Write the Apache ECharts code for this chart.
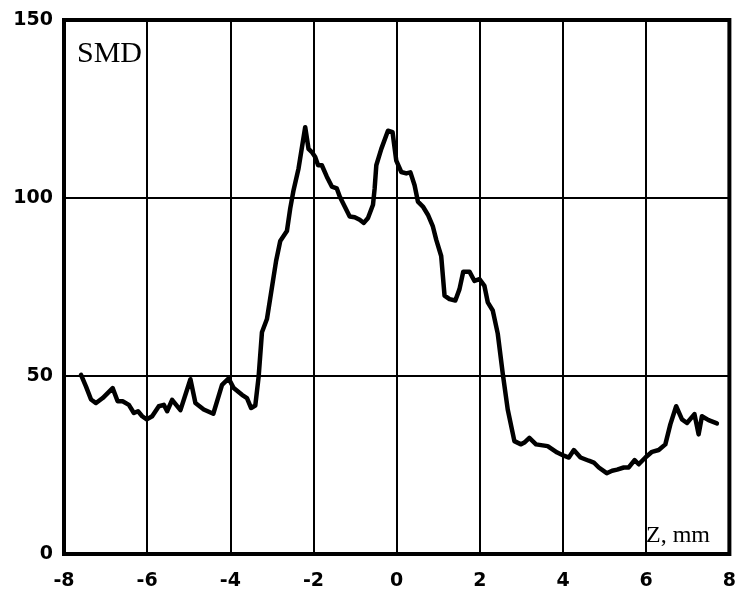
<!DOCTYPE html>
<html>
<head>
<meta charset="utf-8">
<script src="https://cdn.jsdelivr.net/npm/echarts@6/dist/echarts.min.js"></script>
<style>
html,body{margin:0;padding:0;background:#fff;}
#chart{width:739px;height:591px;}
</style>
</head>
<body>
<div id="chart"></div>
<script>
// Z position (mm)
var zValues = [
-7.59,-7.47,-7.35,-7.23,-7.07,-6.83,-6.71,-6.59,-6.44,-6.32,-6.22,-6.12,-6.01,-5.88,-5.72,-5.60,-5.52,-5.40,-5.20,-4.96,
-4.84,-4.64,-4.41,-4.20,-4.04,-3.92,-3.72,-3.60,-3.50,-3.40,-3.32,-3.24,-3.12,-3.00,-2.90,-2.80,-2.64,-2.56,-2.48,-2.36,
-2.20,-2.12,-2.04,-1.96,-1.89,-1.80,-1.68,-1.56,-1.44,-1.37,-1.25,-1.13,-1.01,-0.89,-0.79,-0.69,-0.57,-0.53,-0.49,-0.37,
-0.21,-0.10,-0.01,0.11,0.23,0.33,0.43,0.51,0.63,0.75,0.87,0.95,1.07,1.15,1.27,1.41,1.51,1.60,1.75,1.87,
1.99,2.11,2.19,2.31,2.43,2.55,2.67,2.83,2.99,3.07,3.19,3.35,3.63,3.86,4.02,4.14,4.26,4.42,4.62,4.74,
4.86,5.05,5.18,5.30,5.46,5.58,5.72,5.82,5.98,6.14,6.30,6.46,6.58,6.72,6.86,6.98,7.16,7.26,7.34,7.50,
7.70
];
// SMD values
var smdValues = [
50.3,47.0,43.4,42.4,43.8,46.6,42.9,42.9,41.9,39.6,40.1,38.7,37.8,38.7,41.5,41.9,40.1,43.3,40.4,49.1,
42.4,40.6,39.4,47.5,49.3,46.6,44.7,43.8,41.0,41.7,49.8,62.3,66.0,74.9,82.3,87.9,90.7,97.1,102.2,108.3,
119.9,113.8,112.9,111.5,109.2,109.2,106.0,103.2,102.7,100.4,97.6,94.8,94.6,93.9,93.0,94.4,98.1,102.7,109.2,113.8,
118.9,118.5,110.5,107.3,106.9,107.2,103.6,99.0,97.6,95.3,92.0,88.3,83.7,72.6,71.6,71.2,74.4,79.3,79.3,76.7,
77.2,75.3,70.7,68.4,61.9,50.7,40.6,31.7,30.8,31.3,32.6,30.8,30.3,28.5,27.6,27.1,29.2,27.1,26.2,25.7,
24.3,22.7,23.4,23.7,24.3,24.3,26.4,25.2,27.1,28.7,29.2,30.8,36.4,41.5,37.8,36.8,39.3,33.6,38.7,37.6,
36.7
];
var xTicks = [-8,-6,-4,-2,0,2,4,6,8];
var yTicks = [0,50,100,150];
var yLabelText = 'SMD';
var xLabelText = 'Z, mm';

var seriesData = zValues.map(function(z, i){ return [z, smdValues[i]]; });

var chart = echarts.init(document.getElementById('chart'));
var tickFont = {fontFamily:'DejaVu Sans', fontWeight:'bold', fontSize:19, color:'#000'};
chart.setOption({
  animation:false,
  backgroundColor:'#fff',
  grid:{left:64, top:20, width:667, height:539, show:true, borderColor:'#000', borderWidth:4, backgroundColor:'transparent'},
  xAxis:{
    type:'value', min:xTicks[0], max:xTicks[xTicks.length-1], interval:2,
    axisLine:{show:false}, axisTick:{show:false},
    splitLine:{show:true, lineStyle:{color:'#000', width:2}},
    axisLabel:Object.assign({margin:18}, tickFont)
  },
  yAxis:{
    type:'value', min:yTicks[0], max:yTicks[yTicks.length-1], interval:50,
    axisLine:{show:false}, axisTick:{show:false},
    splitLine:{show:true, lineStyle:{color:'#000', width:2}},
    axisLabel:Object.assign({margin:11}, tickFont)
  },
  graphic:[
    {type:'text', left:77, top:39, z:10, style:{text:yLabelText, font:'30px "Liberation Serif"', fill:'#000'}},
    {type:'text', left:646, top:524, z:10, style:{text:xLabelText, font:'24px "Liberation Serif"', fill:'#000'}}
  ],
  series:[{
    type:'line', data:seriesData, showSymbol:false, symbol:'none',
    lineStyle:{color:'#000', width:4.5, join:'round', cap:'round'},
    z:5
  }]
});
</script>
</body>
</html>
